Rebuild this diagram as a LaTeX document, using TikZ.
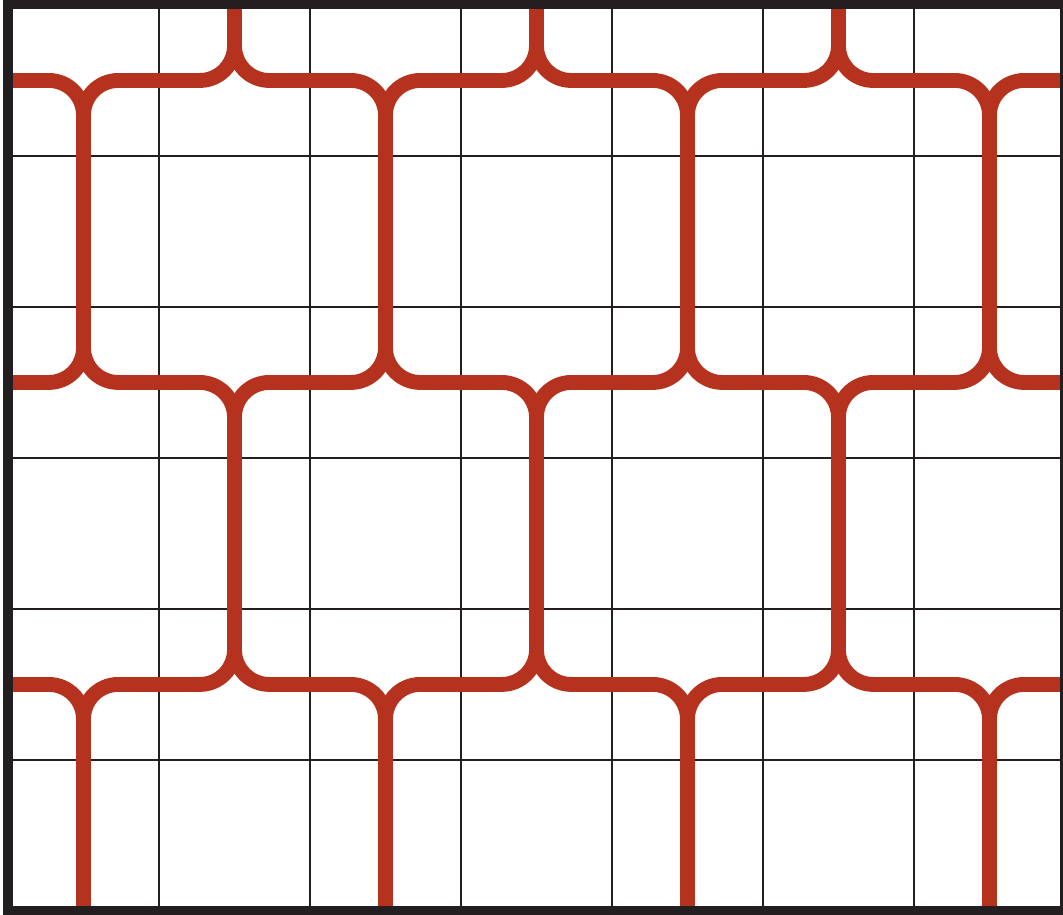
\documentclass[tikz,border=0pt]{standalone}
\usepackage{tikz}
\usepackage{xcolor}
\definecolor{chainRed}{RGB}{181,50,30}
\definecolor{frameBlack}{RGB}{35,31,32}

\begin{document}
\begin{tikzpicture}[
  gridline/.style={draw=frameBlack,line width=.3pt},
  chainline/.style={draw=chainRed,line width=2.8pt,rounded corners=.23cm},
  frameline/.style={draw=frameBlack,line width=1.7pt}]
\useasboundingbox (-0.053,-0.026) rectangle (6.987,6.033);
\draw[gridline,step=1] (0,0) grid (7,6);
\begin{scope}
\clip (0,0) rectangle (7,6);
\foreach \y/\s in {5.5/1,3.5/-1,1.5/1}{
  \foreach \k in {0,...,7}{
    \pgfmathsetmacro{\dl}{isodd(\k) ? -1.5*\s : 1.5*\s}
    \pgfmathsetmacro{\dr}{-\dl}
    \draw[chainline] (\k-0.5,\y+\dl) -- (\k-0.5,\y) -- (\k+0.5,\y) -- (\k+0.5,\y+\dr);
  }
}
\end{scope}
\draw[frameline] (0,0) rectangle (7,6);
\end{tikzpicture}
\end{document}
